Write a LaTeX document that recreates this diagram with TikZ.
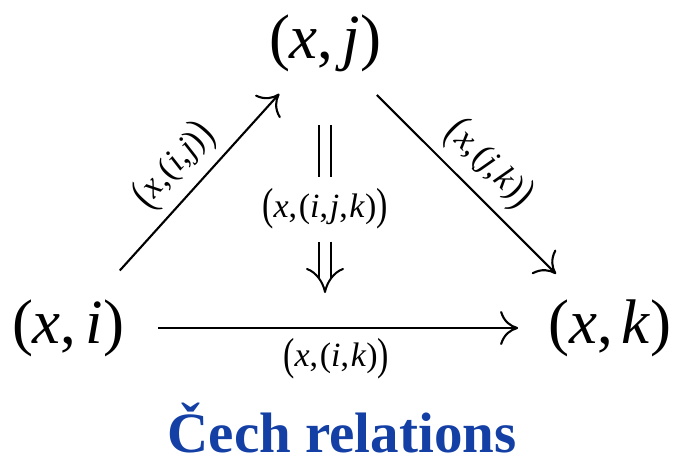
\documentclass[tikz,border=0pt]{standalone}
\usepackage{fontspec}
\setmainfont{Liberation Serif}
\usepackage{graphicx}
\usetikzlibrary{arrows.meta}
\definecolor{titleblue}{RGB}{20,64,166}
\newcommand\Lp{\raisebox{-0.08em}{\scalebox{1}[1.32]{(}}}
\newcommand\Rp{\raisebox{-0.08em}{\scalebox{1}[1.32]{)}}}
\newcommand\vi[1]{\textit{#1}}
\newcommand\cm{,\hspace{0.05em}}
\begin{document}
\begin{tikzpicture}[x=1pt,y=-1pt,
  mainnode/.style={inner sep=2pt,font=\fontsize{63}{64}\selectfont},
  lab/.style={font=\fontsize{34}{35}\selectfont,inner sep=5pt},
  slab/.style={lab,sloped,above,inner sep=8pt},
  arr/.style={line width=2.1pt,-{Computer Modern Rightarrow[length=18pt,width=34pt,line width=2.1pt]}}]
\useasboundingbox (0,0) rectangle (686,469);
\node[mainnode] (j) at (325,43) {(\vi{x},\hspace{0.14em}\vi{j})};
\node[mainnode] (i) at (68,328) {(\vi{x},\hspace{0.14em}\vi{i})};
\node[mainnode] (k) at (610,328) {(\vi{x},\hspace{0.14em}\vi{k})};
\draw[arr,shorten <=36pt,shorten >=27pt] (i) -- node[slab] {\Lp\vi{x}\cm(\vi{i}\cm\vi{j})\Rp} (j);
\draw[arr,shorten <=30pt,shorten >=33pt] (j) -- node[slab] {\Lp\vi{x}\cm(\vi{j}\cm\vi{k})\Rp} (k);
\draw[arr,shorten <=32pt,shorten >=28pt] (i) -- node[lab,below,inner sep=9pt] {\Lp\vi{x}\cm(\vi{i}\cm\vi{k})\Rp} (k);
\node[lab,inner sep=0pt] (m) at (325,209) {\Lp\vi{x}\cm(\vi{i}\cm\vi{j}\cm\vi{k})\Rp};
\coordinate (mt) at (325,125);
\coordinate (mb) at (325,292);
\draw[line width=2pt,double distance=10pt,shorten >=11pt] (mt) -- (m);
\draw[line width=2pt,double distance=10pt,shorten <=12pt,shorten >=13pt] (m) -- (mb);
\draw[line width=2pt,line cap=round,line join=round]
  ([shift={(-18,-23)}]mb) .. controls ([shift={(-9,-20)}]mb) and ([shift={(-2,-10)}]mb) .. (mb)
  .. controls ([shift={(2,-10)}]mb) and ([shift={(9,-20)}]mb) .. ([shift={(18,-23)}]mb);
\node[font=\fontsize{57}{58}\selectfont\bfseries,text=titleblue] (t) at (342,428) {Čech relations};
\end{tikzpicture}
\end{document}
